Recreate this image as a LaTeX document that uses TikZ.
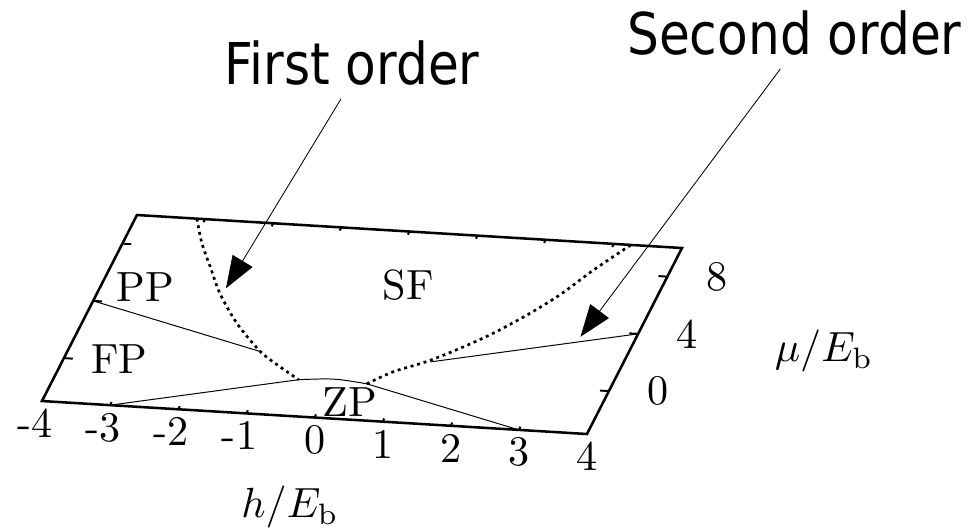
\documentclass[tikz,border=0pt]{standalone}
\usepackage{fontspec}
\usepackage{tikz}
\usetikzlibrary{arrows.meta}
\newfontfamily\calloutfont[FakeStretch=0.87]{DejaVu Sans}
\tikzset{
  frame/.style={line width=1.8pt,line join=miter},
  ticmark/.style={line width=1.4pt},
  boundary/.style={line width=0.7pt},
  crossover/.style={line width=1.9pt,dash pattern=on 2.1pt off 2.7pt},
  pointer/.style={-{Triangle[length=8mm,width=5.8mm]},line width=0.6pt},
  phase/.style={scale=3,inner sep=0pt},
  ticklabel/.style={scale=3,inner sep=0pt},
  axislabel/.style={scale=3,inner sep=0pt},
  callout/.style={font=\calloutfont\fontsize{41}{48}\selectfont,inner xsep=0pt,inner ysep=3.2mm}
}
\begin{document}
\begin{tikzpicture}[x={(1.7031cm,-0.1031cm)},y={(0.1827cm,0.3577cm)}]
\useasboundingbox (-8.41cm,-3.886cm) rectangle (16.09cm,9.365cm);
\coordinate (bl) at (-4,-3);
\coordinate (br) at (4,-3);
\coordinate (tr) at (4,10);
\coordinate (tl) at (-4,10);
\coordinate (zpl) at (-0.5,-0.5);
\coordinate (zpr) at (0.5,-0.5);
\coordinate (ppl) at (-1.25,1.25);
\coordinate (ppr) at (1.25,1.25);
\coordinate (firsttip) at (-2.2,5.4);
\coordinate (secondtip) at (3.2,3.57);

% frame and tics
\draw[frame] (bl) -- (br) -- (tr) -- (tl) -- cycle;
\foreach \h in {-3,...,3}{
  \draw[ticmark] (\h,-3) -- ++(0,0.22);
  \draw[ticmark] (\h,10) -- ++(0,-0.22);
}
\foreach \m in {0,4,8}{
  \draw[ticmark] (-4,\m) -- ++(0.13,0);
  \draw[ticmark] (4,\m) -- ++(-0.13,0);
}

% phase boundaries
\draw[boundary] (-4,4) -- (ppl);
\draw[boundary] (4,4) -- (ppr);
\draw[boundary] (-3,-3) -- (zpl);
\draw[boundary] (3,-3) -- (zpr);
\draw[boundary] (zpl) .. controls (0,-0.26) .. (zpr);
\draw[crossover] plot[smooth] coordinates {(-3.12,10) (-2.87,8.35) (-2.58,6.79) (-2.25,5.03) (-1.79,3.07) (-1.25,1.25) (-0.86,0.3) (-0.5,-0.5)};
\draw[crossover] plot[smooth] coordinates {(0.5,-0.5) (0.79,0.43) (1.19,1.25) (1.57,2.29) (1.93,3.44) (2.28,4.82) (2.6,6.31) (2.9,8.14) (3.25,10)};

\node[phase] (pp) at (-3.36,5.18) {PP};
\node[phase] (fp) at (-3.2,0.15) {FP};
\node[phase] (sf) at (0.37,6.37) {SF};
\node[phase] (zp) at (0.39,-1.84) {ZP};

\foreach \h in {-4,...,4}
  \node[ticklabel,anchor=east] (hl\h) at ([xshift=2.9mm,yshift=-5.6mm]\h,-3) {\h};
\foreach \m in {0,4,8}
  \node[ticklabel,anchor=west] (ml\m) at ([xshift=9.5mm]4,\m) {\m};
\node[axislabel,anchor=base] (hlabel) at (-1.16cm,-3.58cm) {$h/E_{\mathrm{b}}$};
\node[axislabel,anchor=base] (mulabel) at (12.19cm,0.322cm) {$\mu/E_{\mathrm{b}}$};

% callouts
\node[callout,anchor=base] (first) at (0.39cm,7.24cm) {First order};
\node[callout,anchor=base] (second) at (11.45cm,7.99cm) {Second order};
\draw[pointer] ([xshift=-2.75mm]first.south) -- (firsttip);
\draw[pointer] ([xshift=-3.5mm]second.south) -- (secondtip);
\end{tikzpicture}
\end{document}
